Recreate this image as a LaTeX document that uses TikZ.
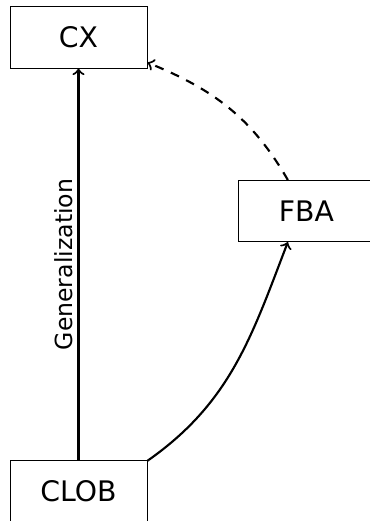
\documentclass[tikz,border=0pt]{standalone}
\usepackage{fontspec}
\setmainfont{DejaVu Sans}
\begin{document}
\begin{tikzpicture}[x=0.424pt,y=-0.424pt,
  box/.style={draw, line width=0.4pt, minimum width=58.1pt, minimum height=25.9pt, inner sep=0pt, font=\fontsize{12}{14}\selectfont},
  conn/.style={->, line width=0.9pt},
  dashconn/.style={conn, dash pattern=on 3.8pt off 3.4pt},
  lbl/.style={font=\fontsize{10}{12}\selectfont, inner sep=2pt}]
\useasboundingbox (0,0) rectangle (370,521);
\node[box] (CX) at (78.5,37.5) {CX};
\node[box] (FBA) at (306.5,211) {FBA};
\node[box] (CLOB) at (78.5,491.5) {CLOB};
\draw[conn] (CLOB.north) -- node[lbl, midway, above, sloped] {Generalization} (CX.south);
\draw[conn] (CLOB.24) to[out=35, in=-111] (FBA.-121);
\draw[dashconn] (FBA.121) to[out=120, in=-22] (CX.-20);
\end{tikzpicture}
\end{document}
